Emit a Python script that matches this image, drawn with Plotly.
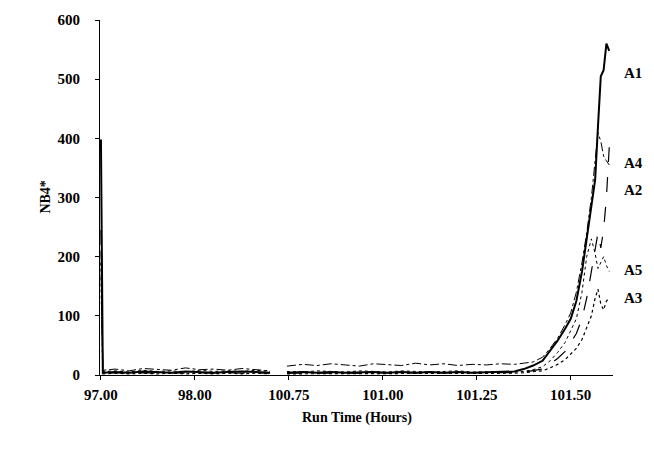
import plotly.graph_objects as go

# x: position along the (category-style) time axis, one unit per labelled tick
pos = [0.00, 0.02, 0.15, 0.30, 0.45, 0.60, 0.75, 0.90, 1.05, 1.20, 1.35, 1.50, 1.65, 1.80,
       1.90,
       1.98, 2.15, 2.30, 2.45, 2.60, 2.75, 2.90, 3.05, 3.20, 3.35, 3.50, 3.65, 3.80, 3.95,
       4.10, 4.25, 4.40, 4.50, 4.60, 4.70, 4.78, 4.86, 4.94, 5.00, 5.06, 5.12, 5.17, 5.22,
       5.26, 5.29, 5.32, 5.35, 5.38, 5.41]

tick_pos = [0, 1, 2, 3, 4, 5]
tick_text = ["97.00", "98.00", "100.75", "101.00", "101.25", "101.50"]

a1 = [398, 4, 5, 4, 6, 5, 4, 6, 5, 4, 5, 6, 5, 4,
      None,
      4, 5, 4, 5, 4, 5, 5, 4, 5, 4, 5, 4, 5, 4,
      5, 5, 6, 10, 16, 24, 40, 58, 78, 95, 125, 175, 230, 285,
      330, 420, 505, 515, 560, 548]
a2 = [245, 3, 4, 3, 4, 3, 4, 3, 4, 3, 4, 3, 4, 3,
      None,
      3, 3, 4, 3, 4, 3, 4, 3, 4, 3, 4, 3, 4, 3,
      4, 4, 4, 5, 7, 10, 18, 28, 40, 55, 70, 95, 130, 175,
      210, 240, 215, 245, 300, 385]
a3 = [165, 2, 3, 2, 3, 2, 3, 2, 3, 2, 3, 2, 3, 2,
      None,
      2, 2, 3, 2, 3, 2, 3, 2, 3, 2, 3, 2, 3, 2,
      3, 3, 3, 4, 5, 7, 12, 18, 26, 35, 45, 60, 80, 100,
      130, 145, 120, 110, 125, 130]
a4 = [210, 8, 10, 7, 11, 9, 8, 12, 9, 10, 8, 11, 9, 7,
      None,
      15, 18, 16, 19, 17, 15, 19, 18, 16, 20, 17, 19, 16, 18,
      17, 19, 18, 20, 22, 30, 45, 62, 85, 105, 140, 190, 240, 300,
      360, 410, 395, 370, 362, 355]
a5 = [190, 6, 7, 5, 8, 6, 7, 5, 8, 6, 7, 6, 8, 6,
      None,
      6, 5, 7, 6, 5, 7, 6, 5, 7, 6, 5, 6, 7, 5,
      6, 6, 5, 6, 9, 14, 24, 38, 55, 75, 95, 140, 200, 230,
      205, 180, 190, 200, 185, 175]

series = [("A1", a1, "solid", 2.0),
          ("A2", a2, "longdash", 1.2),
          ("A3", a3, "dot", 1.2),
          ("A4", a4, "dashdot", 1.0),
          ("A5", a5, "dot", 1.0)]

# end labels, placed at the right of the plot
end_labels = ["A1", "A4", "A2", "A5", "A3"]
end_label_y = [510, 358, 313, 177, 130]

serif = "Liberation Serif"

fig = go.Figure()
for name, vals, dash, w in series:
    fig.add_trace(go.Scatter(
        x=pos, y=vals, mode="lines", name=name,
        line=dict(color="black", width=w, dash=dash),
        connectgaps=False,
    ))

for lab, yv in zip(end_labels, end_label_y):
    fig.add_annotation(
        x=1.018, xref="paper", y=yv, yref="y",
        text=f"<b>{lab}</b>", showarrow=False, xanchor="left",
        font=dict(family=serif, size=15, color="black"),
    )

fig.add_annotation(
    x=-0.107, xref="paper", y=0.5, yref="paper",
    text="<b>NB4*</b>", showarrow=False, textangle=-90,
    xanchor="center", yanchor="middle",
    font=dict(family=serif, size=14, color="black"),
)
fig.add_annotation(
    x=0.5, xref="paper", y=-0.12, yref="paper",
    text="<b>Run Time (Hours)</b>", showarrow=False, yanchor="middle",
    font=dict(family=serif, size=14, color="black"),
)

fig.update_layout(
    width=654, height=453,
    margin=dict(l=100, r=41, t=16, b=78),
    paper_bgcolor="white",
    plot_bgcolor="white",
    showlegend=False,
    font=dict(family=serif, size=15, color="black"),
)

fig.update_xaxes(
    range=[-0.01, 5.45],
    tickvals=tick_pos,
    ticktext=[f"<b>{t}</b>" for t in tick_text],
    showgrid=False, zeroline=False,
    showline=True, linecolor="black", linewidth=1,
    ticks="outside", ticklen=4, tickcolor="black",
    ticklabelstandoff=2,
)
fig.update_yaxes(
    range=[0, 600],
    tickvals=[0, 100, 200, 300, 400, 500, 600],
    ticktext=[f"<b>{v}</b>" for v in [0, 100, 200, 300, 400, 500, 600]],
    showgrid=False, zeroline=False,
    showline=True, linecolor="black", linewidth=1,
    ticks="outside", ticklen=4, tickcolor="black",
    ticklabelstandoff=12,
)

fig.write_html(
    "out.html",
    config={"displayModeBar": False},
    post_script="document.body.style.margin='0';",
)
